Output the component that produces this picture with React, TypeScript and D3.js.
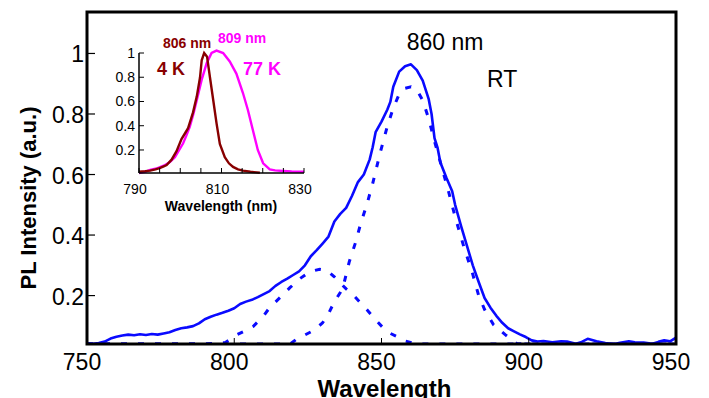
import React from 'react';
import * as d3 from 'd3';

const FONT = "'Liberation Sans', Arial, Helvetica, sans-serif";

// room-temperature PL spectrum (wavelength nm, intensity a.u.)
const rtSpectrum: [number, number][] = [
  [750, 0.042], [752, 0.041], [754, 0.043], [756, 0.048], [758, 0.058], [760, 0.064],
  [762, 0.068], [764, 0.071], [766, 0.069], [768, 0.072], [770, 0.070], [772, 0.073],
  [774, 0.071], [776, 0.075], [778, 0.079], [780, 0.086], [782, 0.092], [784, 0.095],
  [786, 0.099], [788, 0.108], [790, 0.122], [792, 0.130], [794, 0.137], [796, 0.143],
  [798, 0.150], [800, 0.158], [802, 0.172], [804, 0.180], [806, 0.186], [808, 0.195],
  [810, 0.205], [812, 0.215], [814, 0.232], [816, 0.245], [818, 0.256], [820, 0.268],
  [822, 0.280], [824, 0.300], [826, 0.330], [828, 0.350], [830, 0.372], [832, 0.395],
  [834, 0.445], [836, 0.470], [838, 0.490], [840, 0.530], [842, 0.575], [844, 0.600],
  [846, 0.650], [847, 0.690], [848, 0.740], [850, 0.775], [852, 0.815], [853, 0.840],
  [854, 0.890], [856, 0.940], [858, 0.958], [860, 0.964], [862, 0.945], [864, 0.910],
  [866, 0.850], [867, 0.800], [868, 0.720], [869, 0.690], [870, 0.640], [872, 0.590],
  [874, 0.545], [875, 0.500], [877, 0.430], [879, 0.365], [881, 0.300], [883, 0.245],
  [885, 0.192], [887, 0.160], [889, 0.133], [891, 0.110], [893, 0.092], [895, 0.082],
  [897, 0.072], [899, 0.063], [901, 0.052], [903, 0.048], [905, 0.050], [908, 0.046],
  [911, 0.049], [913, 0.048], [916, 0.041], [918, 0.047], [920, 0.057], [923, 0.049],
  [926, 0.043], [929, 0.036], [931, 0.044], [934, 0.049], [936, 0.046], [939, 0.045],
  [942, 0.041], [944, 0.047], [946, 0.052], [948, 0.049], [950, 0.061],
];

// fitted component around 830 nm
const fitLow: [number, number][] = [
  [750, 0], [790, 0], [797, 0.045], [801, 0.071], [804, 0.085], [806.4, 0.098],
  [809.8, 0.131], [812, 0.160], [815.5, 0.193], [818.9, 0.226], [822.3, 0.256],
  [825.7, 0.279], [829, 0.287], [831.5, 0.283], [834, 0.262], [835.9, 0.243],
  [838, 0.222], [840.3, 0.203], [842.5, 0.180], [845, 0.154], [847.5, 0.125],
  [850.5, 0.094], [853, 0.075], [855.3, 0.064], [858, 0.050], [862, 0.040],
  [866, 0.020], [870, 0], [950, 0],
];

// fitted component around 860 nm
const fitHigh: [number, number][] = [
  [750, 0], [800, 0], [815, 0.005], [819, 0.030], [821, 0.055], [824, 0.070],
  [827, 0.085], [830, 0.110], [832, 0.140], [834, 0.180], [836, 0.210], [837, 0.230],
  [839, 0.310], [841, 0.370], [843, 0.440], [845, 0.500], [847, 0.570], [849.5, 0.670],
  [852, 0.760], [854, 0.820], [856, 0.865], [858, 0.885], [860, 0.890], [862, 0.880],
  [864, 0.845], [866, 0.785], [868, 0.710], [870, 0.640], [872.6, 0.550], [875, 0.460],
  [878, 0.360], [881, 0.270], [883, 0.200], [885, 0.154], [888, 0.104], [892, 0.071],
  [896, 0.041], [900, 0.020], [905, 0], [950, 0],
];

// inset: 4 K spectrum
const spec4K: [number, number][] = [
  [790, 0.020], [791.5, 0.025], [792.7, 0.030], [794, 0.040], [795, 0.050], [796, 0.065],
  [796.7, 0.075], [797.9, 0.120], [799.1, 0.190], [800.3, 0.290], [801.2, 0.340],
  [801.9, 0.380], [803.1, 0.510], [804, 0.640], [804.8, 0.800], [805.2, 0.940],
  [805.8, 1.000], [806.5, 0.970], [807.2, 0.800], [808, 0.610], [808.8, 0.420],
  [809.6, 0.250], [810.8, 0.140], [811.8, 0.090], [812.8, 0.060], [814, 0.040],
  [815.2, 0.030], [817, 0.020], [819.3, 0.012],
];

// inset: 77 K spectrum
const spec77K: [number, number][] = [
  [790, 0.010], [791.5, 0.020], [792.7, 0.035], [794.5, 0.050], [796.3, 0.076],
  [797.5, 0.100], [798.7, 0.140], [800.7, 0.255], [801.5, 0.320], [802.3, 0.390],
  [803.2, 0.500], [804, 0.610], [805.2, 0.780], [806.4, 0.915], [807.6, 1.000],
  [808.8, 1.020], [810.4, 1.000], [812, 0.930], [813.6, 0.830], [815.2, 0.670],
  [816.4, 0.530], [817.6, 0.365], [818.8, 0.200], [820.1, 0.090], [821.7, 0.040],
  [823, 0.032], [824.9, 0.027], [827, 0.022], [830, 0.020],
];

const mainXTicks = [750, 800, 850, 900, 950];
const mainYTicks = [0.2, 0.4, 0.6, 0.8, 1];
const insetXTicks = [790, 795, 800, 805, 810, 815, 820, 825, 830];
const insetXLabels = [790, 810, 830];
const insetYTicks = [0.2, 0.4, 0.6, 0.8, 1];

const BLUE = '#0a0aff';
const DARKRED = '#880000';
const MAGENTA = '#ff00ff';

export default function App() {
  // main axes
  const x = d3.scaleLinear().domain([750, 950]).range([87, 676]);
  const y = d3.scaleLinear().domain([0.04, 1.137]).range([344, 12]).clamp(true);
  const line = d3.line<[number, number]>().x(d => x(d[0])).y(d => y(d[1]));

  // inset axes
  const xi = d3.scaleLinear().domain([790, 830]).range([139, 304]);
  const yi = d3.scaleLinear().domain([0.01, 1]).range([173, 53]);
  const lineInset = d3.line<[number, number]>().x(d => xi(d[0])).y(d => yi(d[1]));

  const [x0, x1] = x.range();
  const [yb, yt] = y.range();
  const fmt = (v: number) => String(v);

  return (
    <svg
      width={709}
      height={398}
      style={{ position: 'absolute', left: 0, top: 0, background: '#fff' }}
      fontFamily={FONT}
    >
      <defs>
        <clipPath id="plotClip">
          <rect x={x0} y={yt} width={x1 - x0} height={yb - yt} />
        </clipPath>
      </defs>

      {/* fitted components + measured spectrum */}
      <g clipPath="url(#plotClip)" fill="none">
        <path d={line(fitHigh) || ''} stroke={BLUE} strokeWidth={3} strokeDasharray="6 11" />
        <path d={line(fitLow) || ''} stroke={BLUE} strokeWidth={3} strokeDasharray="6 11" />
        <path d={line(rtSpectrum) || ''} stroke={BLUE} strokeWidth={2.6} strokeLinejoin="round" />
      </g>

      {/* main frame */}
      <rect x={x0} y={yt} width={x1 - x0} height={yb - yt} fill="none" stroke="#000" strokeWidth={3} />

      {/* x ticks & labels */}
      {mainXTicks.map(t => (
        <g key={'x' + t}>
          {t > 750 && t < 950 && (
            <line x1={x(t)} x2={x(t)} y1={yb} y2={yb - 6} stroke="#000" strokeWidth={1} />
          )}
          <text x={x(t) - 5} y={370} textAnchor="middle" fontSize={23}>{t}</text>
        </g>
      ))}
      <text x={(x0 + x1) / 2 + 3} y={397} textAnchor="middle" fontSize={24} fontWeight="bold">Wavelength</text>

      {/* y ticks & labels */}
      {mainYTicks.map(t => (
        <g key={'y' + t}>
          <line x1={x0} x2={x0 + 8} y1={y(t)} y2={y(t)} stroke="#000" strokeWidth={1.2} />
          <text x={84} y={y(t) + 1} textAnchor="end" dominantBaseline="central" fontSize={23}>{fmt(t)}</text>
        </g>
      ))}
      <text
        transform="translate(36,198) rotate(-90)"
        textAnchor="middle"
        fontSize={22}
        fontWeight="bold"
      >PL Intensity (a.u.)</text>

      {/* annotations */}
      <text x={445} y={50} textAnchor="middle" fontSize={23}>860 nm</text>
      <text x={487} y={87} fontSize={23}>RT</text>

      {/* inset */}
      <g>
        <path d={lineInset(spec77K) || ''} fill="none" stroke={MAGENTA} strokeWidth={2.4} />
        <path d={lineInset(spec4K) || ''} fill="none" stroke={DARKRED} strokeWidth={2.4} />
        <line x1={xi(790)} x2={xi(790)} y1={yi(0.01)} y2={yi(1)} stroke="#000" strokeWidth={1.5} />
        <line x1={xi(790)} x2={xi(830)} y1={yi(0.01)} y2={yi(0.01)} stroke="#000" strokeWidth={1.5} />
        {insetXTicks.map(t => (
          <line key={'ix' + t} x1={xi(t)} x2={xi(t)} y1={yi(0.01)} y2={yi(0.01) - 5} stroke="#000" strokeWidth={1} />
        ))}
        {insetXLabels.map(t => (
          <text key={'ixl' + t} x={xi(t) - 4} y={194} textAnchor="middle" fontSize={14}>{t}</text>
        ))}
        {insetYTicks.map(t => (
          <g key={'iy' + t}>
            <line x1={xi(790)} x2={xi(790) + 5} y1={yi(t)} y2={yi(t)} stroke="#000" strokeWidth={1} />
            <text x={135} y={yi(t)} textAnchor="end" dominantBaseline="central" fontSize={14}>{fmt(t)}</text>
          </g>
        ))}
        <text x={221} y={211} textAnchor="middle" fontSize={14} fontWeight="bold">Wavelength (nm)</text>
        <text x={163} y={48} fontSize={14} fontWeight="bold" fill={DARKRED}>806 nm</text>
        <text x={218} y={43} fontSize={14} fontWeight="bold" fill={MAGENTA}>809 nm</text>
        <text x={157} y={75} fontSize={18} fontWeight="bold" fill={DARKRED}>4 K</text>
        <text x={243} y={75} fontSize={18} fontWeight="bold" fill={MAGENTA}>77 K</text>
      </g>
    </svg>
  );
}
